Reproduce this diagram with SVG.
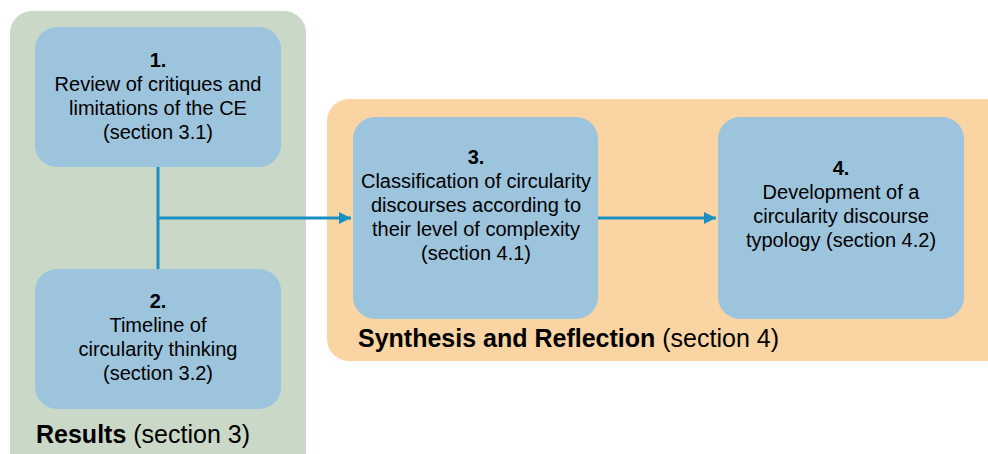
<svg xmlns="http://www.w3.org/2000/svg" width="988" height="454" viewBox="0 0 988 454">
<defs>
<style>
.cont-g{fill:#C9D8C7}
.cont-o{fill:#FAD4A3}
.box{fill:#9DC4DD}
.t{font-family:"Liberation Sans",Arial,sans-serif;font-size:20px;fill:#000;text-anchor:middle}
.b{font-weight:bold}
.lbl{font-family:"Liberation Sans",Arial,sans-serif;font-size:25px;fill:#000}
.con{stroke:#1A8FC2;stroke-width:3;fill:none}
</style>
<marker id="arr" viewBox="0 0 10 10" refX="10" refY="5" markerWidth="4" markerHeight="4" orient="auto" markerUnits="strokeWidth">
<path d="M0,0 L10,5 L0,10 z" fill="#1A8FC2"/>
</marker>
</defs>
<rect width="988" height="454" fill="#fff"/>
<g id="results">
<rect class="cont-g" x="10" y="11" width="296" height="470" rx="22"/>
<text class="lbl" x="36" y="443"><tspan font-weight="bold">Results</tspan> (section 3)</text>
</g>
<g id="synthesis">
<rect class="cont-o" x="327" y="99" width="690" height="262" rx="22"/>
<text class="lbl" x="358" y="347"><tspan font-weight="bold">Synthesis and Reflection</tspan> (section 4)</text>
</g>
<g id="connectors">
<line class="con" x1="158" y1="167" x2="158" y2="269"/>
<line class="con" x1="158" y1="218" x2="351" y2="218" marker-end="url(#arr)"/>
<line class="con" x1="598" y1="218" x2="716" y2="218" marker-end="url(#arr)"/>
</g>
<g id="node1">
<rect class="box" x="35" y="27" width="246" height="140" rx="22"/>
<text class="t b" x="158" y="67">1.</text>
<text class="t" x="158" y="91">Review of critiques and</text>
<text class="t" x="158" y="115">limitations of the CE</text>
<text class="t" x="158" y="139">(section 3.1)</text>
</g>
<g id="node2">
<rect class="box" x="35" y="269" width="246" height="140" rx="22"/>
<text class="t b" x="158" y="308">2.</text>
<text class="t" x="158" y="332">Timeline of</text>
<text class="t" x="158" y="356">circularity thinking</text>
<text class="t" x="158" y="380">(section 3.2)</text>
</g>
<g id="node3">
<rect class="box" x="353" y="117" width="245" height="202" rx="22"/>
<text class="t b" x="476" y="164">3.</text>
<text class="t" x="476" y="188">Classification of circularity</text>
<text class="t" x="476" y="212">discourses according to</text>
<text class="t" x="476" y="236">their level of complexity</text>
<text class="t" x="476" y="260">(section 4.1)</text>
</g>
<g id="node4">
<rect class="box" x="718" y="117" width="246" height="202" rx="22"/>
<text class="t b" x="841" y="175">4.</text>
<text class="t" x="841" y="199">Development of a</text>
<text class="t" x="841" y="223">circularity discourse</text>
<text class="t" x="841" y="247">typology (section 4.2)</text>
</g>
</svg>
